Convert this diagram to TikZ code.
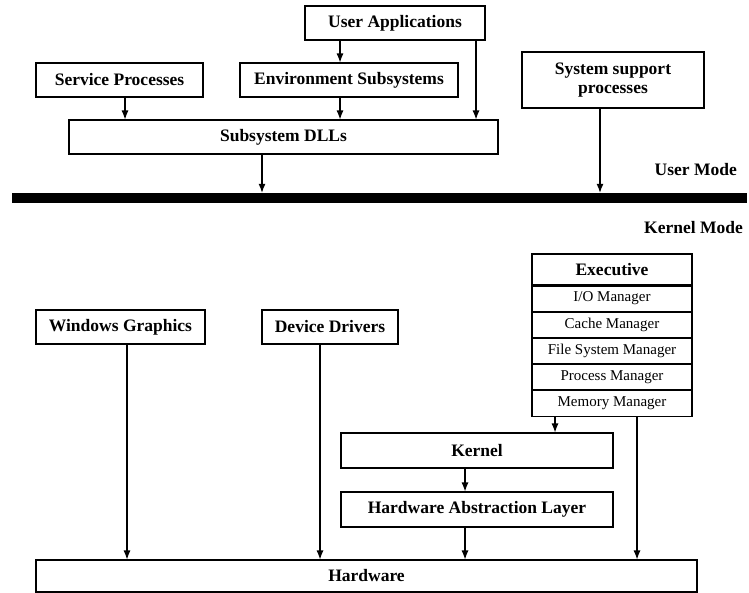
\documentclass[tikz,border=0pt]{standalone}
\usepackage{fontspec}
\setmainfont{Liberation Serif}
\usetikzlibrary{arrows.meta,calc}
\begin{document}
\begin{tikzpicture}[x=1pt,y=-1pt,
  box/.style={draw,line width=1.1pt,rectangle,inner sep=0pt,align=center,
    font=\fontsize{17.5}{19}\selectfont\bfseries},
  sub/.style={draw,line width=1.1pt,rectangle,inner sep=0pt,
    minimum width=160,minimum height=25,font=\fontsize{15}{17}\selectfont},
  arr/.style={line width=1.1pt,-{Latex[length=9pt,width=7pt]}},
  lab/.style={font=\fontsize{17.5}{19}\selectfont\bfseries,anchor=east,inner sep=0pt}]
\useasboundingbox (0,0) rectangle (749,592);
% user mode
\node[box,minimum width=180,minimum height=34] (ua) at (395,23) {User Applications};
\node[box,minimum width=167,minimum height=34] (sp) at (119.5,80) {Service Processes};
\node[box,minimum width=218,minimum height=34] (es) at (349,80) {Environment Subsystems};
\node[box,minimum width=182,minimum height=56] (ssp) at (613,80) {System support\\processes};
\node[box,minimum width=429,minimum height=34] (dll) at (283.5,137) {Subsystem DLLs};
\node[fill=black,inner sep=0pt,minimum width=735,minimum height=10] (bar) at (379.5,198) {};
\node[lab] (um) at (737,170) {User Mode};
\node[lab] (km) at (743,228) {Kernel Mode};
% kernel mode
\node[box,minimum width=160,minimum height=31] (ex) at (612,269.5) {Executive};
\node[sub,anchor=north] (io) at (ex.south) {I/O Manager};
\node[sub,anchor=north] (cm) at (io.south) {Cache Manager};
\node[sub,anchor=north] (fs) at (cm.south) {File System Manager};
\node[sub,anchor=north] (pm) at (fs.south) {Process Manager};
\node[sub,anchor=north,minimum height=26] (mm) at (pm.south) {Memory Manager};
\node[box,minimum width=169,minimum height=34] (wg) at (120.5,327) {Windows Graphics};
\node[box,minimum width=136,minimum height=34] (dd) at (330,327) {Device Drivers};
\node[box,minimum width=272,minimum height=35] (ke) at (477,450.5) {Kernel};
\node[box,minimum width=272,minimum height=35] (hal) at (477,509.5) {Hardware Abstraction Layer};
\node[box,minimum width=661,minimum height=32] (hw) at (366.5,576) {Hardware};
% connectors
\draw[arr] ([xshift=-55pt]ua.south) -- ([xshift=-55pt]ua.south |- es.north);
\draw[arr] ([xshift=81pt]ua.south) -- ([xshift=81pt]ua.south |- dll.north);
\draw[arr] ([xshift=5.5pt]sp.south) -- ([xshift=5.5pt]sp.south |- dll.north);
\draw[arr] ([xshift=-9pt]es.south) -- ([xshift=-9pt]es.south |- dll.north);
\draw[arr] ([xshift=-21.5pt]dll.south) -- ([xshift=-21.5pt]dll.south |- bar.north);
\draw[arr] ([xshift=-13pt]ssp.south) -- ([xshift=-13pt]ssp.south |- bar.north);
\draw[arr] ([xshift=-57pt]mm.south) -- ([xshift=-57pt]mm.south |- ke.north);
\draw[arr] ([xshift=25pt]mm.south) -- ([xshift=25pt]mm.south |- hw.north);
\draw[arr] ([xshift=-12pt]ke.south) -- ([xshift=-12pt]ke.south |- hal.north);
\draw[arr] ([xshift=-12pt]hal.south) -- ([xshift=-12pt]hal.south |- hw.north);
\draw[arr] ([xshift=6.5pt]wg.south) -- ([xshift=6.5pt]wg.south |- hw.north);
\draw[arr] ([xshift=-10pt]dd.south) -- ([xshift=-10pt]dd.south |- hw.north);
\end{tikzpicture}
\end{document}
